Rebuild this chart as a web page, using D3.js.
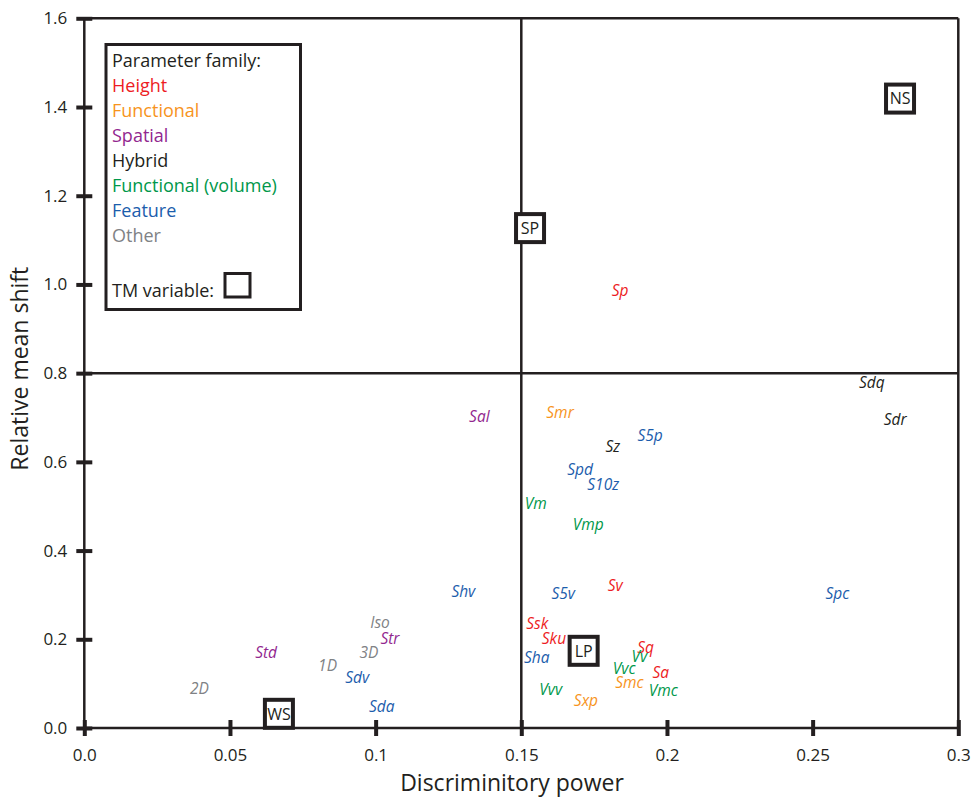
<!DOCTYPE html>
<html>
<head>
<meta charset="utf-8">
<script src="https://cdn.jsdelivr.net/npm/d3@7"></script>
<style>
  html, body { margin: 0; padding: 0; background: #fff; }
  svg { display: block; font-family: "Open Sans", "Noto Sans", sans-serif; }
</style>
</head>
<body>
<svg id="chart" width="972" height="799"></svg>
<script>
// ---- data ----
const paramNames = ["Sp","Sdq","Sdr","Spc","Shv","Sal","Smr","S5p","Sz","Spd","S10z","Vm","Vmp","Sv","S5v","Ssk","Sku","Sha","Sq","Vv","Vvc","Sa","Smc","Vmc","Vvv","Sxp","2D","Std","1D","Iso","Str","3D","Sdv","Sda"];
const paramPower = [0.1839,0.2703,0.2783,0.2585,0.1301,0.1356,0.1633,0.1942,0.1814,0.1702,0.1781,0.1550,0.1730,0.1822,0.1644,0.1555,0.1612,0.1553,0.1927,0.1905,0.1853,0.1979,0.1871,0.1987,0.1601,0.1722,0.0395,0.0624,0.0835,0.1015,0.1049,0.0977,0.0937,0.1021];
const paramShift = [0.987,0.778,0.696,0.302,0.307,0.703,0.711,0.660,0.634,0.583,0.548,0.506,0.459,0.322,0.304,0.236,0.201,0.159,0.182,0.161,0.135,0.126,0.102,0.084,0.086,0.062,0.090,0.170,0.140,0.238,0.202,0.170,0.113,0.048];
const paramFamily = ["Height","Hybrid","Hybrid","Feature","Feature","Spatial","Functional","Feature","Hybrid","Feature","Feature","Functional (volume)","Functional (volume)","Height","Feature","Height","Height","Feature","Height","Functional (volume)","Functional (volume)","Height","Functional","Functional (volume)","Functional (volume)","Functional","Other","Spatial","Other","Other","Spatial","Other","Feature","Feature"];

const tmNames = ["NS","SP","LP","WS"];
const tmPower = [0.280,0.153,0.1714,0.0668];
const tmShift = [1.419,1.127,0.174,0.032];

const families = ["Height","Functional","Spatial","Hybrid","Functional (volume)","Feature","Other"];
const familyColors = ["#ed1c24","#f7941d","#92278f","#231f20","#00974a","#1c5dac","#808285"];

const xTicks = [0,0.05,0.1,0.15,0.2,0.25,0.3];
const xTickLabels = ["0.0","0.05","0.1","0.15","0.2","0.25","0.3"];
const yTicks = [0,0.2,0.4,0.6,0.8,1.0,1.2,1.4,1.6];
const yTickLabels = ["0.0","0.2","0.4","0.6","0.8","1.0","1.2","1.4","1.6"];

const xTitle = "Discriminitory power";
const yTitle = "Relative mean shift";
const legendTitle = "Parameter family:";
const tmLegend = "TM variable:";

// ---- layout ----
const svg = d3.select("#chart");
const ink = "#231f20";
const x = d3.scaleLinear().domain([0, 0.3]).range([84.3, 958.3]);
const y = d3.scaleLinear().domain([0, 1.6]).range([728, 18.3]);
const color = d3.scaleOrdinal().domain(families).range(familyColors);

// frame + quadrant lines
const g = svg.append("g");
g.append("line").attr("x1", x(0)).attr("x2", x(0.3)).attr("y1", y(1.6)).attr("y2", y(1.6));
g.append("line").attr("x1", x(0.3)).attr("x2", x(0.3)).attr("y1", y(1.6)).attr("y2", y(0));
g.append("line").attr("x1", x(0.15)).attr("x2", x(0.15)).attr("y1", y(1.6)).attr("y2", y(0));
g.append("line").attr("x1", x(0)).attr("x2", x(0.3)).attr("y1", y(0.8)).attr("y2", y(0.8));
g.selectAll("line").attr("stroke", ink).attr("stroke-width", 2.5);

// axes
const xAxis = d3.axisBottom(x).tickValues(xTicks).tickFormat((d, i) => xTickLabels[i]).tickSize(8).tickPadding(13);
const gx = svg.append("g").attr("transform", `translate(0,${y(0)})`).call(xAxis);
gx.select(".domain").attr("stroke", ink).attr("stroke-width", 2.5).attr("d", `M${x(0)},0H${x(0.3)}`);
gx.selectAll(".tick line").attr("stroke", ink).attr("stroke-width", 4).attr("y1", -8).attr("y2", 8);
gx.selectAll(".tick text").attr("fill", ink).attr("font-size", 17).attr("font-family", "Open Sans, sans-serif");

const yAxis = d3.axisLeft(y).tickValues(yTicks).tickFormat((d, i) => yTickLabels[i]).tickSize(8).tickPadding(9);
const gy = svg.append("g").attr("transform", `translate(${x(0)},0)`).call(yAxis);
gy.select(".domain").attr("stroke", ink).attr("stroke-width", 2.5).attr("d", `M0,${y(0)}V${y(1.6)}`);
gy.selectAll(".tick line").attr("stroke", ink).attr("stroke-width", 4).attr("x1", -8).attr("x2", 8);
gy.selectAll(".tick text").attr("fill", ink).attr("font-size", 17).attr("font-family", "Open Sans, sans-serif");

// axis titles
svg.append("text").attr("x", 512).attr("y", 791).attr("text-anchor", "middle")
  .attr("font-size", 23).attr("fill", ink).text(xTitle);
svg.append("text").attr("transform", `translate(28,${y(0.81)}) rotate(-90)`).attr("text-anchor", "middle")
  .attr("font-size", 23).attr("fill", ink).text(yTitle);

// parameter labels
const pts = paramNames.map((n, i) => ({ n, x: paramPower[i], y: paramShift[i], f: paramFamily[i] }));
svg.append("g").selectAll("text").data(pts).join("text")
  .attr("x", d => x(d.x)).attr("y", d => y(d.y))
  .attr("text-anchor", "middle").attr("dy", "0.35em")
  .attr("font-style", "italic").attr("font-size", 15.5)
  .attr("fill", d => color(d.f)).text(d => d.n);

// TM boxes
const tms = tmNames.map((n, i) => ({ n, x: tmPower[i], y: tmShift[i] }));
const tg = svg.append("g").selectAll("g").data(tms).join("g")
  .attr("transform", d => `translate(${x(d.x)},${y(d.y)})`);
tg.append("rect").attr("x", -14).attr("y", -14).attr("width", 28).attr("height", 28)
  .attr("fill", "#fff").attr("stroke", ink).attr("stroke-width", 4);
tg.append("text").attr("text-anchor", "middle").attr("dy", "0.36em")
  .attr("font-size", 16).attr("fill", ink).text(d => d.n);

// legend
const lg = svg.append("g");
lg.append("rect").attr("x", 106).attr("y", 44.5).attr("width", 194.5).attr("height", 265)
  .attr("fill", "#fff").attr("stroke", ink).attr("stroke-width", 3);
lg.append("text").attr("x", 112).attr("y", 67).attr("font-size", 18).attr("fill", ink).text(legendTitle);
lg.selectAll("text.fam").data(families).join("text").attr("class", "fam")
  .attr("x", 112).attr("y", (d, i) => 92 + i * 25)
  .attr("font-size", 18).attr("fill", d => color(d)).text(d => d);
lg.append("text").attr("x", 112).attr("y", 297).attr("font-size", 18).attr("fill", ink).text(tmLegend);
lg.append("rect").attr("x", 225).attr("y", 273.5).attr("width", 25).attr("height", 23.5)
  .attr("fill", "#fff").attr("stroke", ink).attr("stroke-width", 3);
</script>
</body>
</html>
